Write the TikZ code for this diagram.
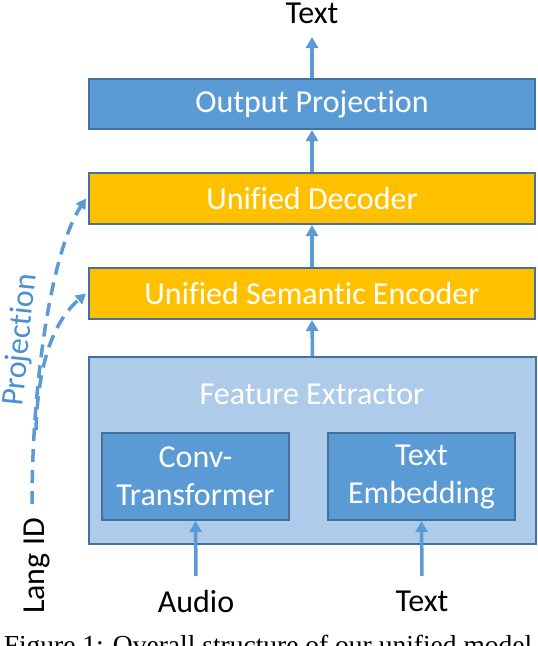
\documentclass[tikz,border=0pt]{standalone}
\usepackage{fontspec}
\setmainfont{Carlito}[Ligatures={NoCommon}]
\newfontfamily\capfont{Liberation Serif}
\usetikzlibrary{arrows.meta}
\definecolor{boxblue}{HTML}{5B9BD5}
\definecolor{boxedge}{HTML}{41719C}
\definecolor{boxorange}{HTML}{FFC000}
\definecolor{boxlight}{HTML}{AECBE9}
\definecolor{projblue}{HTML}{4A8FD0}
\tikzset{
  blk/.style={draw=boxedge, line width=2pt, minimum height=50pt, minimum width=446pt, inner sep=0pt, font=\fontsize{32}{38}\selectfont, text=white},
  blueblk/.style={blk, fill=boxblue},
  orgblk/.style={blk, fill=boxorange},
  subblk/.style={draw=boxedge, line width=2pt, fill=boxblue, minimum width=187pt, minimum height=87pt, inner sep=0pt, align=center, font=\fontsize{32}{38}\selectfont, text=white},
  flow/.style={draw=boxblue, line width=3.5pt, -{Triangle[length=11pt,width=12pt]}},
  lbl/.style={font=\fontsize{32}{38}\selectfont, text=black, inner sep=0pt},
  proj/.style={draw=boxblue, line width=3.5pt, dash pattern=on 13pt off 8pt, -{Triangle[length=10pt,width=11pt]}}
}
\begin{document}
\begin{tikzpicture}[x=1pt,y=-1pt]
\useasboundingbox (0,0) rectangle (538,646);
\node[blueblk] (outp) at (312,104) {Output Projection};
\node[orgblk, minimum height=51pt] (dec) at (312,198.5) {Unified Decoder};
\node[orgblk, minimum height=51pt] (enc) at (312,293.5) {Unified Semantic Encoder};
\node[draw=boxedge, line width=2pt, fill=boxlight, minimum width=447pt, minimum height=187pt, inner sep=0pt] (fe) at (312.5,450.5) {};
\node[font=\fontsize{32}{38}\selectfont, text=white, inner sep=0pt] (fel) at (312,394) {Feature Extractor};
\node[subblk] (conv) at (195.5,476.5) {Conv-\\Transformer};
\node[subblk] (temb) at (421.5,476.5) {Text\\Embedding};
\node[lbl] (outtxt) at (312,13) {Text};
\node[lbl] (audio) at (196,601) {Audio};
\node[lbl] (intxt) at (422,601) {Text};
\node[lbl, rotate=90] (lang) at (37,566) {Lang ID};
\node[font=\fontsize{32}{38}\selectfont, text=projblue, inner sep=0pt, rotate=84] (projl) at (21,340) {Projection};
\node[font=\capfont\fontsize{27.5}{32}\selectfont, anchor=base, inner sep=0pt] (cap) at (268,654) {Figure 1: Overall structure of our unified model};
\draw[flow] (outp.north) -- (outtxt.south |- 0,37);
\draw[flow] (dec.north) -- (outp.south);
\draw[flow] (enc.north) -- (dec.south);
\draw[flow] (fe.north) -- (enc.south);
\coordinate (ain) at (196,576);
\coordinate (tin) at (422,576);
\draw[flow] (ain) -- (conv.south);
\draw[flow] (tin) -- (temb.south);
\coordinate (lstart) at (32,504);
\draw[proj] (lstart) .. controls (32,380) and (52,250) .. ([xshift=-2pt]dec.west);
\draw[proj] (36,430) .. controls (38,360) and (55,320) .. ([xshift=-2pt]enc.west);
\end{tikzpicture}
\end{document}
